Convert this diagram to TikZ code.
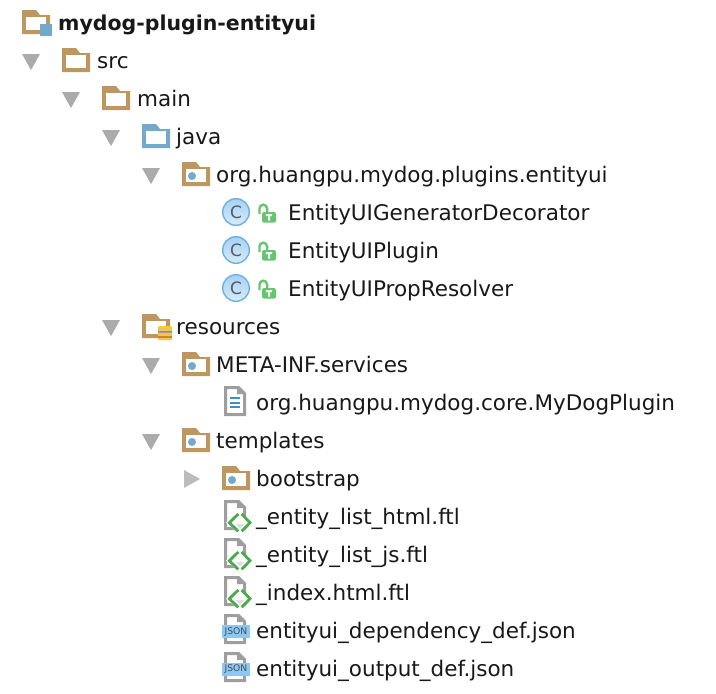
\documentclass[tikz,border=0pt]{standalone}
\usepackage{fontspec}
\setmainfont{DejaVu Sans}
\usetikzlibrary{calc}
\definecolor{FolderTan}{RGB}{189,150,96}
\definecolor{SourceBlue}{RGB}{116,169,203}
\definecolor{ArrowGray}{RGB}{171,171,171}
\definecolor{PageGray}{RGB}{158,158,158}
\definecolor{LockGreen}{RGB}{104,196,112}
\definecolor{TagGreen}{RGB}{74,170,78}
\definecolor{ClassFill}{RGB}{165,210,245}
\definecolor{ClassEdge}{RGB}{110,176,226}
\definecolor{JsonBlue}{RGB}{140,200,245}
\definecolor{LineBlue}{RGB}{62,143,196}
\definecolor{GoldDark}{RGB}{196,140,30}
\definecolor{GoldLight}{RGB}{244,196,76}
\definecolor{InkBlack}{RGB}{24,24,24}
\tikzset{
  entry/.style={anchor=base west,inner sep=0pt,font=\fontsize{21.5}{24}\selectfont,text=InkBlack},
  title/.style={entry,font=\fontsize{20.5}{24}\selectfont\bfseries},
  pics/folder/.style={code={
    \fill[#1] (0,-12) -- (14,-12) -- (18,-7) -- (28,-7) -- (28,12) -- (0,12) -- cycle;
    \fill[white] (4,-5) rectangle (24,8);
  }},
  pics/folder/.default=FolderTan,
  pics/pkgdot/.style={code={\fill[SourceBlue] (10,2) circle (4);}},
  pics/open/.style={code={\fill[ArrowGray] (-9,-6) -- (9,-6) -- (0,10) -- cycle;}},
  pics/shut/.style={code={\fill[ArrowGray!80!white] (-8,-8) -- (8,1) -- (-8,10) -- cycle;}},
  pics/page/.style={code={
    \draw[PageGray,line width=3pt,fill=white] (-9.5,-13.5) -- (3.5,-13.5) -- (9.5,-7.5) -- (9.5,13.5) -- (-9.5,13.5) -- cycle;
    \fill[PageGray] (2,-14) -- (9,-7) -- (2,-7) -- cycle;
  }},
  pics/classicon/.style={code={
    \shade[top color=ClassFill,bottom color=ClassFill!45!white,draw=ClassEdge,line width=1.4pt] (0,0) circle (13.3);
    \node[inner sep=0pt,text=black!65,font=\fontsize{17}{17}\selectfont] at (0,0) {C};
    \draw[LockGreen,line width=2.4pt] (23.5,2) -- (23.5,-3.5) arc (180:360:3.8) -- (31.1,0);
    \fill[LockGreen,rounded corners=1.5pt] (26,0) rectangle (40,10.5);
    \fill[white] (29.8,2.2) rectangle (36.2,4.2) (32,2.2) rectangle (34,8.5);
  }},
  pics/tagicon/.style={code={
    \pic at (0,-1) {page};
    \fill[white] (3.3,-5) -- (18,6.7) -- (5,18) -- (-9,6.7) -- cycle;
    \fill[black!12] (1,8) -- (9,8) -- (5,13) -- cycle;
    \draw[TagGreen,line width=2.8pt] (3.3,-2) -- (-5.7,6.7) -- (3.3,15.3) (6.7,-2) -- (15,6.7) -- (6.7,15.3);
  }},
  pics/jsonicon/.style={code={
    \pic at (0,-1) {page};
    \fill[JsonBlue] (-13,-5) rectangle (15,8);
    \node[inner sep=0pt,text=black!70,font=\fontsize{9.2}{9}\selectfont] at (1,1.5) {JSON};
  }}
}
\begin{document}
\begin{tikzpicture}[x=1pt,y=-1pt]
\useasboundingbox (0,0) rectangle (716,694);

% project
\pic at (22,22) {folder};
\fill[SourceBlue] (40,24) rectangle (52,36);
\node[title] (root) at (58,30) {mydog-plugin-entityui};

% tree down to the package
\pic at (31,60) {open};
\pic at (62,60) {folder};
\node[entry] (src) at (97,68) {src};
\pic at (71,98) {open};
\pic at (102,98) {folder};
\node[entry] (main) at (137,106) {main};
\pic at (111,136) {open};
\pic at (142,136) {folder=SourceBlue};
\node[entry] (java) at (176,144) {java};
\pic at (151,174) {open};
\pic at (182,174) {folder};
\pic at (182,174) {pkgdot};
\node[entry] (pkg) at (216,182) {org.huangpu.mydog.plugins.entityui};

% classes
\foreach \y/\name/\txt in {212/gen/EntityUIGeneratorDecorator,250/plug/EntityUIPlugin,288/res/EntityUIPropResolver}{
  \pic at (236,\y) {classicon};
  \node[entry] (\name) at (288,\y+8) {\txt};
}

% resources
\pic at (111,326) {open};
\pic at (142,326) {folder};
\fill[GoldLight,rounded corners=1pt] (158,326) rectangle (172,340);
\foreach \y in {330.5,335.5}
  \fill[GoldDark] (158,\y) rectangle (172,\y+2);
\fill[PageGray] (158,332) rectangle (172,333.2);
\node[entry] (resources) at (176,334) {resources};
\pic at (151,364) {open};
\pic at (182,364) {folder};
\pic at (182,364) {pkgdot};
\node[entry] (meta) at (216,372) {META-INF.services};
\pic at (235,401) {page};
\foreach \y in {398,402.5,407}
  \fill[LineBlue] (230,\y-1) rectangle (240,\y+1);
\node[entry] (service) at (256,410) {org.huangpu.mydog.core.MyDogPlugin};

% templates
\pic at (151,440) {open};
\pic at (182,440) {folder};
\pic at (182,440) {pkgdot};
\node[entry] (templates) at (216,448) {templates};
\pic at (192,478) {shut};
\pic at (222,478) {folder};
\pic at (222,478) {pkgdot};
\node[entry] (bootstrap) at (256,486) {bootstrap};
\foreach \y/\name/\txt in {516/listhtml/\_entity\_list\_html.ftl,554/listjs/\_entity\_list\_js.ftl,592/index/\_index.html.ftl}{
  \pic at (235,\y) {tagicon};
  \node[entry] (\name) at (256,\y+8) {\txt};
}
\foreach \y/\name/\txt in {630/depdef/entityui\_dependency\_def.json,668/outdef/entityui\_output\_def.json}{
  \pic at (235,\y) {jsonicon};
  \node[entry] (\name) at (256,\y+8) {\txt};
}

\end{tikzpicture}
\end{document}
